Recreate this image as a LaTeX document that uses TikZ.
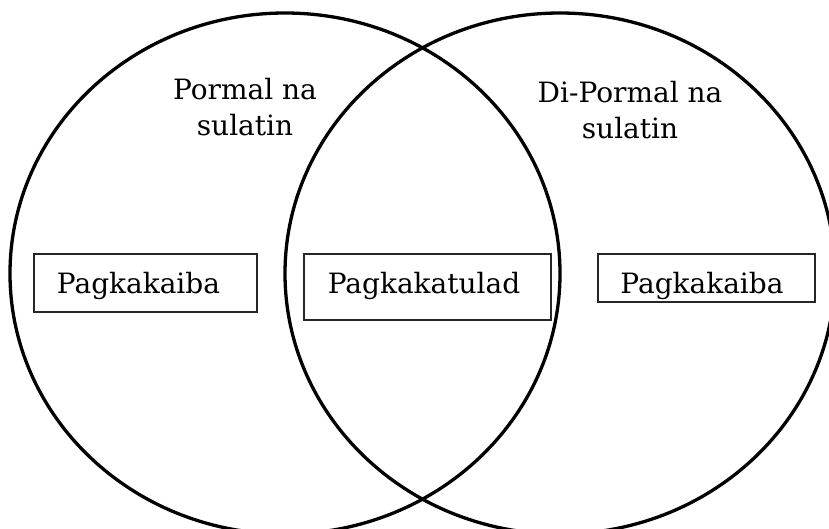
\documentclass[tikz,border=0pt]{standalone}
\usepackage{fontspec}
\setmainfont{DejaVu Serif}
\begin{document}
\begin{tikzpicture}[x=1pt,y=-1pt,
  ring/.style={draw=black,line width=3.3pt},
  box/.style={draw=black!85,line width=1.1pt,inner sep=0pt},
  lbl/.style={font=\fontsize{28}{36}\selectfont,inner sep=0pt,align=center}]
\useasboundingbox (0,0) rectangle (829,528);
\draw[ring] (285,273.5) ellipse [x radius=275, y radius=260.5];
\draw[ring] (560,273.5) ellipse [x radius=275, y radius=260.5];
\node[lbl,anchor=base] (t1) at (245,135) {Pormal na\\sulatin};
\node[lbl,anchor=base] (t2) at (630,138) {Di-Pormal na\\sulatin};
\node[box,minimum width=223pt,minimum height=58pt] (b1) at (145.5,283) {};
\node[lbl,anchor=base] (p1) at (138.5,293) {Pagkakaiba};
\node[box,minimum width=247pt,minimum height=66pt] (b2) at (427.5,287) {};
\node[lbl,anchor=base] (p2) at (424,293) {Pagkakatulad};
\node[box,minimum width=217pt,minimum height=48pt] (b3) at (706.5,278) {};
\begin{scope}
\clip (b3.north west) rectangle (b3.south east);
\node[lbl,anchor=base] (p3) at (702,293) {Pagkakaiba};
\end{scope}
\end{tikzpicture}
\end{document}
